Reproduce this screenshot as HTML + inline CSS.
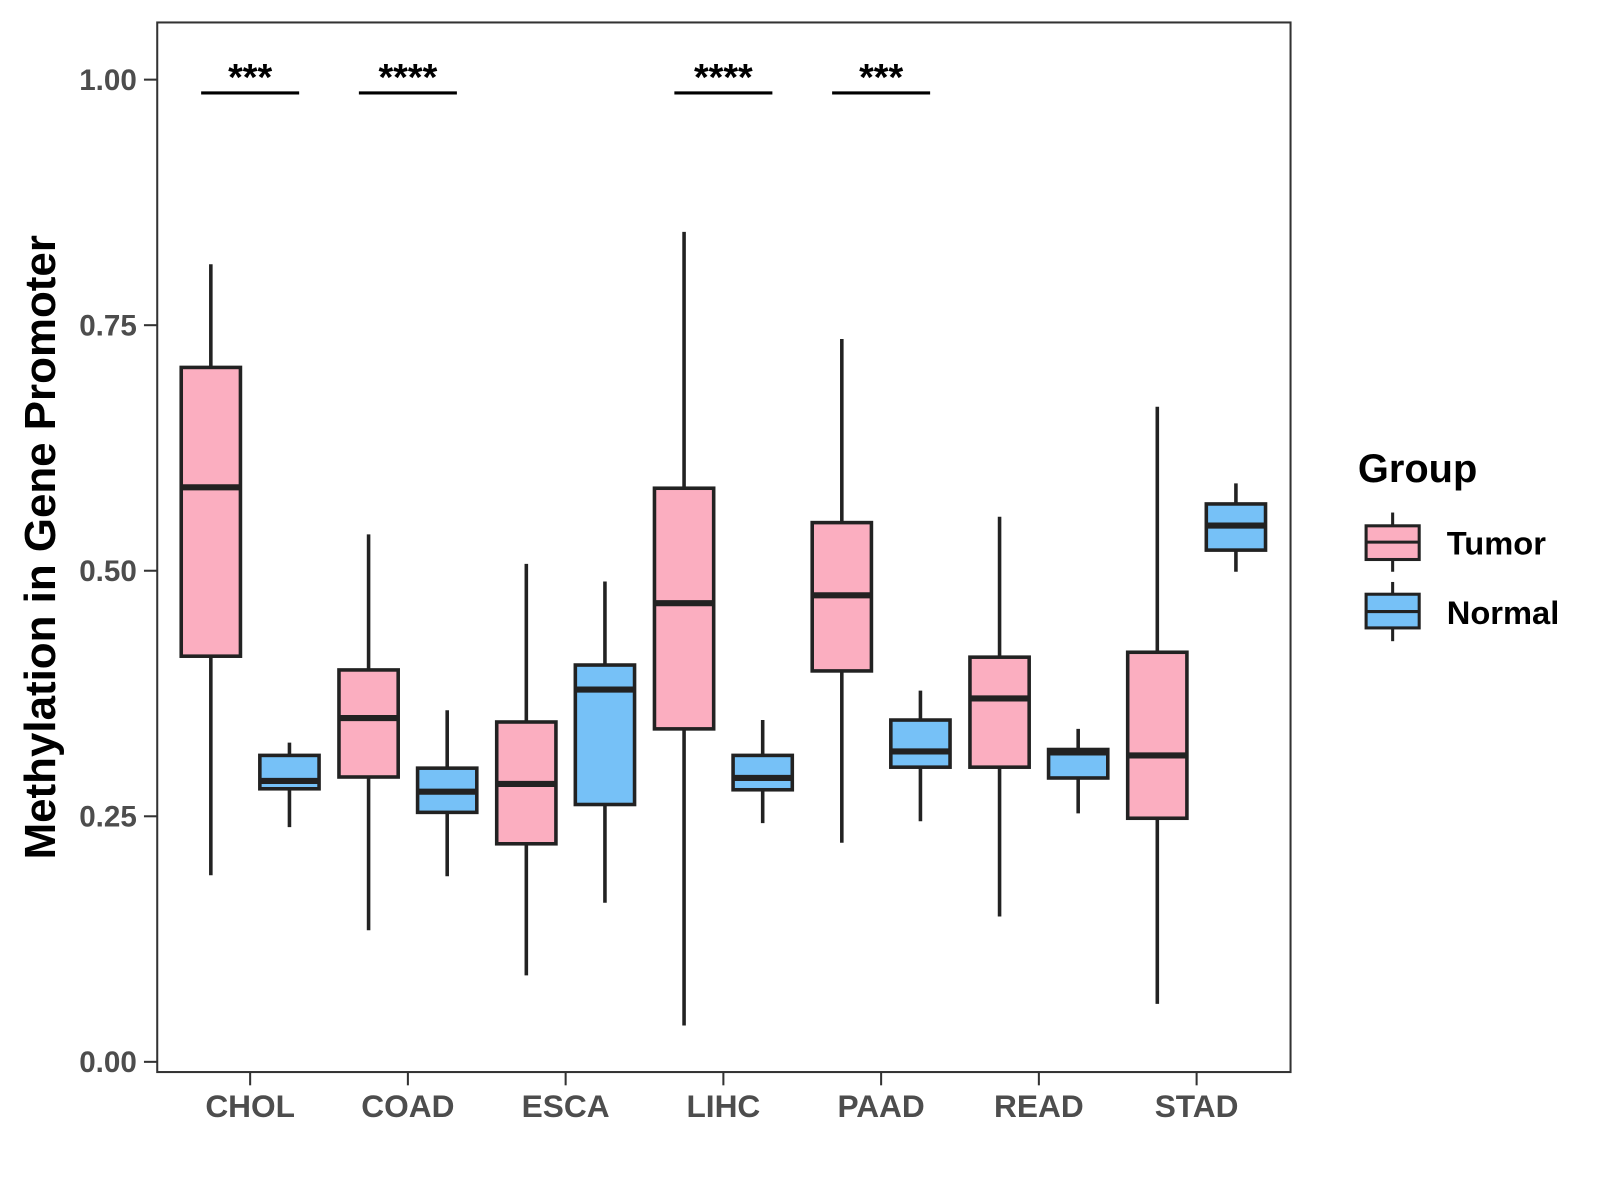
<!DOCTYPE html>
<html><head><meta charset="utf-8">
<style>
html,body{margin:0;padding:0;background:#fff;}
svg{display:block;font-family:"Liberation Sans",Arial,sans-serif;}
</style></head>
<body>
<svg id="chart" width="1600" height="1200" viewBox="0 0 1600 1200">
<rect x="0" y="0" width="1600" height="1200" fill="#fff"/>
<g transform="scale(1.021)">
<g id="plot"></g>
<rect x="154" y="22" width="1110" height="1028" fill="none" stroke="#333" stroke-width="2"/>
<text transform="translate(54,536) rotate(-90)" text-anchor="middle" font-size="43" font-weight="bold" fill="#000">Methylation in Gene Promoter</text>
<g>
<text x="1330" y="472" font-size="39" font-weight="bold">Group</text>
<g>
<line x1="1364" y1="502" x2="1364" y2="560" stroke="#222" stroke-width="3"/>
<rect x="1338" y="515" width="52" height="33" fill="#FBAEC0" stroke="#222" stroke-width="3"/>
<line x1="1338" y1="531" x2="1390" y2="531" stroke="#222" stroke-width="3"/>
<text x="1417" y="543" font-size="32" font-weight="bold">Tumor</text>
</g>
<g>
<line x1="1364" y1="570" x2="1364" y2="628" stroke="#222" stroke-width="3"/>
<rect x="1338" y="582" width="52" height="33" fill="#76C1F7" stroke="#222" stroke-width="3"/>
<line x1="1338" y1="599" x2="1390" y2="599" stroke="#222" stroke-width="3"/>
<text x="1417" y="611" font-size="32" font-weight="bold">Normal</text>
</g>
</g>
</g>
</svg>
<script>
const categories = ["CHOL","COAD","ESCA","LIHC","PAAD","READ","STAD"];
// [low, q1, median, q3, high]
const tumorStats = [
 [0.190,0.413,0.585,0.707,0.812],
 [0.134,0.290,0.350,0.399,0.537],
 [0.088,0.222,0.283,0.346,0.507],
 [0.037,0.339,0.467,0.584,0.845],
 [0.223,0.398,0.475,0.549,0.736],
 [0.148,0.300,0.370,0.412,0.555],
 [0.059,0.248,0.312,0.417,0.667]
];
const normalStats = [
 [0.239,0.278,0.286,0.312,0.325],
 [0.189,0.254,0.275,0.299,0.358],
 [0.162,0.262,0.379,0.404,0.489],
 [0.243,0.277,0.289,0.312,0.348],
 [0.245,0.300,0.316,0.348,0.378],
 [0.253,0.289,0.315,0.318,0.339],
 [0.499,0.521,0.546,0.568,0.589]
];
const yTicks = [0,0.25,0.5,0.75,1.0];
const yTickLabels = ["0.00","0.25","0.50","0.75","1.00"];
const sigLabels = ["***","****","","****","***","",""];

const NS="http://www.w3.org/2000/svg";
const g=document.getElementById('plot');
function y(v){return 1040-(v)*962;}
function x(i){return 245+i*154.5;}
function el(tag,attrs,parent){const e=document.createElementNS(NS,tag);for(const k in attrs)e.setAttribute(k,attrs[k]);(parent||g).appendChild(e);return e;}

yTicks.forEach((t,i)=>{
 const tk=el('line',{x1:141,x2:154,y1:y(t),y2:y(t),stroke:'#333','stroke-width':2});
 
 
 const tx=el('text',{x:134,y:y(t)+10,'text-anchor':'end','font-size':29,'font-weight':'bold',fill:'#4d4d4d'});
 tx.textContent=yTickLabels[i];
 
 
});
categories.forEach((c,i)=>{
 const tk=el('line',{x1:x(i),x2:x(i),y1:1050,y2:1063,stroke:'#333','stroke-width':2});
 
 
 const tx=el('text',{x:x(i),y:1094,'text-anchor':'middle','font-size':31,'font-weight':'bold',fill:'#4d4d4d'});
 tx.textContent=c;
 
 
});
function box(cx,s,fill,name){
 const grp=el('g',{});
 
 
 el('line',{x1:cx,x2:cx,y1:y(s[0]),y2:y(s[4]),stroke:'#222','stroke-width':3.5},grp);
 el('rect',{x:cx-29,y:y(s[3]),width:58,height:y(s[1])-y(s[3]),fill:fill,stroke:'#222','stroke-width':3.5},grp);
 el('line',{x1:cx-29,x2:cx+29,y1:y(s[2]),y2:y(s[2]),stroke:'#222','stroke-width':6},grp);
}
categories.forEach((c,i)=>{
 box(x(i)-38.5,tumorStats[i],'#FBAEC0','box-tumor-'+c.toLowerCase());
 box(x(i)+38.5,normalStats[i],'#76C1F7','box-normal-'+c.toLowerCase());
 if(sigLabels[i]){
  const ln=el('line',{x1:x(i)-48,x2:x(i)+48,y1:91,y2:91,stroke:'#000','stroke-width':3});
  
  
  const t=el('text',{x:x(i),y:88,'text-anchor':'middle','font-size':37,'font-weight':'bold'});
  t.textContent=sigLabels[i];
  
  
 }
});
</script>
</body></html>
